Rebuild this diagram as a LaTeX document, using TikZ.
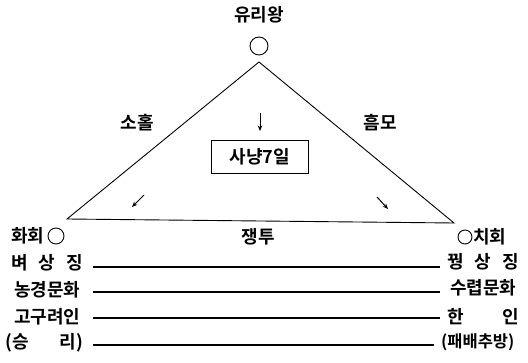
\documentclass[tikz,border=0pt]{standalone}
\usepackage{fontspec}
\setmainfont{Noto Sans CJK KR}[BoldFont={Noto Sans CJK KR Bold}]
\usetikzlibrary{arrows.meta,calc}
\begin{document}
\begin{tikzpicture}[x=1pt,y=-1pt,
  lbl/.style={inner sep=0pt,font=\fontsize{18}{20}\selectfont\bfseries},
  ring/.style={draw,circle,line width=0.9pt,inner sep=0pt},
  edge/.style={line width=0.9pt},
  row/.style={line width=1.2pt},
  arr/.style={line width=1pt,-{Stealth[length=5.5pt,width=4.5pt]}}]
\useasboundingbox (0,0) rectangle (528,363);
% top
\node[lbl] (yuri) at (259,15) {유리왕};
\node[ring,minimum size=18pt] (topc) at (259,46) {};
\coordinate (A) at (259,62);
\coordinate (B) at (67,219);
\coordinate (C) at (454,223);
\draw[edge] (A) -- (B) -- (C) -- cycle;
\node[lbl] (sohol) at (137,123) {소홀};
\node[lbl] (heum) at (380,123) {흠모};
\node[draw,line width=1.8pt,minimum width=97pt,minimum height=33pt,inner sep=0pt,font=\fontsize{18}{20}\selectfont\bfseries] (hunt) at (260,157) {사냥7일};
\coordinate (d1) at (260,113); \coordinate (d2) at (260,131);
\draw[arr] (d1) -- (d2);
\coordinate (l1) at (144,195); \coordinate (l2) at (132,207);
\draw[arr] (l1) -- (l2);
\coordinate (r1) at (377,197); \coordinate (r2) at (388,209);
\draw[arr] (r1) -- (r2);
% corners
\node[lbl,anchor=west] (hwa) at (11,236) {화회};
\node[ring,minimum size=16pt] (hwac) at (56,236) {};
\node[lbl] (fight) at (258,237) {쟁투};
\node[ring,minimum size=14pt] (chic) at (465,237) {};
\node[lbl,anchor=west] (chi) at (473,237) {치회};
% rows left
\node[lbl,anchor=west] (a1) at (11,263) {\makebox[72pt]{벼\hfill 상\hfill 징}};
\node[lbl,anchor=west] (a2) at (11,290) {\makebox[72pt]{농경문화}};
\node[lbl,anchor=west] (a3) at (11,317) {\makebox[72pt]{고구려인}};
\node[lbl,anchor=west] (a4) at (5,343) {\makebox[78pt]{(승\hfill 리)}};
% rows right
\node[lbl,anchor=west] (b1) at (447,262) {\makebox[72pt]{꿩\hfill 상\hfill 징}};
\node[lbl,anchor=west] (b2) at (447,288) {\makebox[72pt]{수렵문화}};
\node[lbl,anchor=west] (b3) at (447,317) {\makebox[72pt]{한\hfill 인}};
\node[lbl,anchor=west,font=\fontsize{16.5}{18}\selectfont\bfseries] (b4) at (441,342) {(패배추방)};
\foreach \i/\s in {1/4,2/2,3/1,4/2}{
  \draw[row] ($(a\i.east)+(10,\s)$) -- ($(a\i.east -| b\i.west)+(-7,\s)$);
}
\end{tikzpicture}
\end{document}
